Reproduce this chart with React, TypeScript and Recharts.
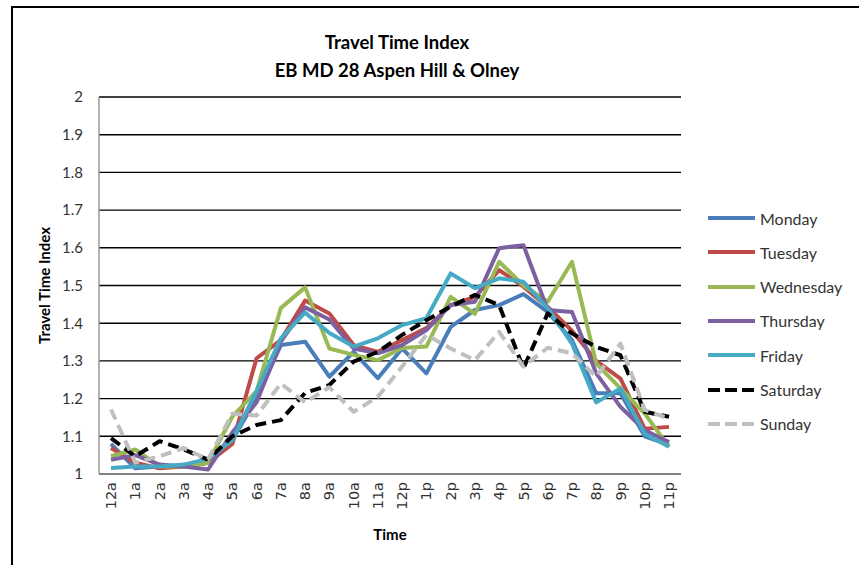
import { CartesianGrid, LineChart, Line, XAxis, YAxis } from "recharts";

const hours = ["12a", "1a", "2a", "3a", "4a", "5a", "6a", "7a", "8a", "9a", "10a", "11a", "12p", "1p", "2p", "3p", "4p", "5p", "6p", "7p", "8p", "9p", "10p", "11p"];

const monday = [1.08, 1.015, 1.02, 1.02, 1.03, 1.09, 1.2, 1.342, 1.351, 1.258, 1.324, 1.254, 1.333, 1.267, 1.39, 1.435, 1.448, 1.477, 1.43, 1.355, 1.214, 1.214, 1.1, 1.077];
const tuesday = [1.069, 1.03, 1.015, 1.02, 1.03, 1.08, 1.307, 1.355, 1.46, 1.426, 1.342, 1.324, 1.355, 1.387, 1.448, 1.47, 1.541, 1.497, 1.443, 1.38, 1.3, 1.253, 1.12, 1.125];
const wednesday = [1.047, 1.065, 1.02, 1.02, 1.03, 1.152, 1.22, 1.44, 1.495, 1.333, 1.316, 1.302, 1.334, 1.338, 1.47, 1.425, 1.563, 1.5, 1.457, 1.563, 1.293, 1.227, 1.16, 1.072];
const thursday = [1.038, 1.05, 1.025, 1.02, 1.012, 1.11, 1.19, 1.351, 1.442, 1.41, 1.333, 1.32, 1.342, 1.382, 1.448, 1.457, 1.599, 1.607, 1.435, 1.43, 1.267, 1.178, 1.116, 1.085];
const friday = [1.016, 1.02, 1.02, 1.025, 1.04, 1.09, 1.22, 1.36, 1.428, 1.374, 1.338, 1.36, 1.395, 1.413, 1.532, 1.493, 1.519, 1.51, 1.44, 1.346, 1.19, 1.227, 1.107, 1.072];
const saturday = [1.095, 1.047, 1.087, 1.065, 1.038, 1.1, 1.13, 1.143, 1.215, 1.236, 1.298, 1.324, 1.369, 1.408, 1.444, 1.475, 1.448, 1.28, 1.426, 1.373, 1.337, 1.315, 1.165, 1.152];
const sunday = [1.171, 1.03, 1.047, 1.069, 1.038, 1.16, 1.155, 1.24, 1.19, 1.23, 1.165, 1.205, 1.285, 1.369, 1.333, 1.302, 1.377, 1.285, 1.335, 1.32, 1.258, 1.346, 1.17, 1.147];

const yTicks = [1, 1.1, 1.2, 1.3, 1.4, 1.5, 1.6, 1.7, 1.8, 1.9, 2];

const series = [
  { name: "Monday", values: monday, color: "#4A7EBB", dash: undefined },
  { name: "Tuesday", values: tuesday, color: "#BE4B48", dash: undefined },
  { name: "Wednesday", values: wednesday, color: "#98B954", dash: undefined },
  { name: "Thursday", values: thursday, color: "#7D60A0", dash: undefined },
  { name: "Friday", values: friday, color: "#46AAC5", dash: undefined },
  { name: "Saturday", values: saturday, color: "#000000", dash: "11 6" },
  { name: "Sunday", values: sunday, color: "#BFBFBF", dash: "11 6" }
];

const data = hours.map((hour, i) => {
  const row: Record<string, string | number> = { hour };
  series.forEach((s) => {
    row[s.name] = s.values[i];
  });
  return row;
});

const FONT = "Lato, 'Open Sans', sans-serif";

function HourTick(props: any) {
  const { x, y, payload } = props;
  return (
    <g transform={`translate(${x},${y})`}>
      <text transform="rotate(-90)" textAnchor="end" dy="0.35em" fontFamily="'DejaVu Sans', sans-serif" fontSize={14.5} fill="#333">
        {payload.value}
      </text>
    </g>
  );
}

export default function App() {
  return (
    <div style={{ position: "absolute", left: 0, top: 0, width: 859, height: 565, overflow: "hidden", background: "#fff", fontFamily: FONT }}>
      <div style={{ position: "absolute", left: 11, top: 6, width: 900, height: 700, border: "2px solid #000" }} />
      <div style={{ position: "absolute", left: 0, top: 28, width: 794, textAlign: "center", fontWeight: 700, fontSize: 18.5, lineHeight: "28px", color: "#000" }}>
        <div>Travel Time Index</div>
        <div>EB MD 28 Aspen Hill &amp; Olney</div>
      </div>
      <div style={{ position: "absolute", left: 0, top: 0 }}>
        <LineChart width={859} height={565} data={data} margin={{ top: 97, right: 178, bottom: 0, left: 40 }}>
          <CartesianGrid horizontal vertical={false} stroke="#000" strokeWidth={1.4} />
          <XAxis
            dataKey="hour"
            height={91}
            padding={{ left: 12, right: 12 }}
            interval={0}
            axisLine={{ stroke: "#999", strokeWidth: 1.5 }}
            tickLine={false}
            tick={<HourTick />}
            label={{ value: "Time", position: "insideTop", offset: 55, style: { fontFamily: FONT, fontWeight: 700, fontSize: 15, fill: "#000" } }}
          />
          <YAxis
            width={59}
            domain={[1, 2]}
            ticks={yTicks}
            interval={0}
            axisLine={{ stroke: "#999", strokeWidth: 1.5 }}
            tickLine={false}
            tickMargin={10}
            tick={{ fontFamily: FONT, fontSize: 15, fill: "#333" }}
            label={{ value: "Travel Time Index", angle: -90, position: "insideLeft", offset: 5, style: { textAnchor: "middle", fontFamily: FONT, fontWeight: 700, fontSize: 15, fill: "#000" } }}
          />
          <YAxis yAxisId="right" orientation="right" width={0} tick={false} tickLine={false} axisLine={{ stroke: "#000", strokeWidth: 1.5 }} />
          {series.map((s) => (
            <Line
              key={s.name}
              type="linear"
              dataKey={s.name}
              stroke={s.color}
              strokeWidth={4}
              strokeDasharray={s.dash}
              strokeLinejoin="round"
              dot={false}
              activeDot={false}
              isAnimationActive={false}
            />
          ))}
        </LineChart>
      </div>
      {series.map((s, i) => (
        <div key={s.name} style={{ position: "absolute", left: 708, top: 208 + i * 34.33, height: 20, display: "flex", alignItems: "center" }}>
          <svg width={48} height={10} style={{ display: "block" }}>
            <line x1={0} y1={5} x2={47} y2={5} stroke={s.color} strokeWidth={4} strokeDasharray={s.dash ? "12 5" : undefined} />
          </svg>
          <span style={{ marginLeft: 4, fontSize: 16, color: "#333", whiteSpace: "nowrap" }}>{s.name}</span>
        </div>
      ))}
    </div>
  );
}
